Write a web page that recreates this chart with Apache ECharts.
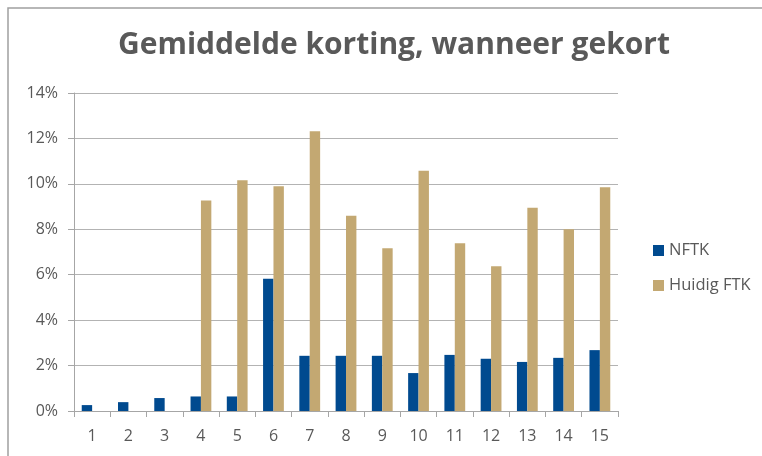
<!DOCTYPE html>
<html>
<head>
<meta charset="utf-8">
<script src="https://cdn.jsdelivr.net/npm/echarts@6/dist/echarts.min.js"></script>
<style>
  html, body { margin: 0; padding: 0; background: #fff; }
  #chart { width: 762px; height: 456px; }
</style>
</head>
<body>
<div id="chart"></div>
<script>
// categories (x axis)
var categories = ["1", "2", "3", "4", "5", "6", "7", "8", "9", "10", "11", "12", "13", "14", "15"];
// average cut, in %
var nftk = [0.26, 0.39, 0.57, 0.64, 0.64, 5.82, 2.43, 2.43, 2.43, 1.67, 2.47, 2.30, 2.16, 2.34, 2.68];
var huidigFtk = [null, null, null, 9.27, 10.16, 9.90, 12.32, 8.60, 7.16, 10.58, 7.38, 6.37, 8.95, 8.00, 9.85];
var yTicks = [0, 2, 4, 6, 8, 10, 12, 14];

var chart = echarts.init(document.getElementById("chart"));
var txt = "#595959";
var font = "'Open Sans', sans-serif";

chart.setOption({
    animation: false,
    title: {
        text: "Gemiddelde korting, wanneer gekort",
        left: 389,
        top: 25,
        textAlign: "center",
        textStyle: { color: txt, fontSize: 30, fontWeight: "bold", fontFamily: font }
    },
    graphic: [{
        type: "rect",
        shape: { x: 8, y: 8, width: 800, height: 500 },
        style: { fill: "none", stroke: "#a0a0a0", lineWidth: 1.5 },
        silent: true
    }],
    legend: {
        orient: "vertical",
        left: 648,
        top: 237,
        itemWidth: 11,
        itemHeight: 11,
        itemGap: 18,
        icon: "rect",
        textStyle: { color: txt, fontSize: 16.5, fontFamily: font },
        data: ["NFTK", "Huidig FTK"]
    },
    grid: { left: 74, right: 144, top: 93, bottom: 45, containLabel: false },
    xAxis: {
        type: "category",
        data: categories,
        axisLine: { lineStyle: { color: "#a6a6a6" } },
        axisTick: { show: true, length: 6, alignWithLabel: false, lineStyle: { color: "#a6a6a6" } },
        axisLabel: { color: txt, fontSize: 16, fontFamily: font, margin: 17 }
    },
    yAxis: {
        type: "value",
        min: yTicks[0],
        max: yTicks[yTicks.length - 1],
        interval: 2,
        axisLine: { show: true, lineStyle: { color: "#a6a6a6" } },
        axisTick: { show: true, length: 6, lineStyle: { color: "#a6a6a6" } },
        splitLine: { lineStyle: { color: "#b3b3b3" } },
        axisLabel: { color: txt, fontSize: 16, fontFamily: font, margin: 16, formatter: "{value}%" }
    },
    series: [{
        name: "NFTK",
        type: "bar",
        data: nftk,
        barWidth: 10.4,
        barGap: "0%",
        itemStyle: { color: "#004a8f" }
    }, {
        name: "Huidig FTK",
        type: "bar",
        data: huidigFtk,
        barWidth: 10.4,
        barGap: "0%",
        itemStyle: { color: "#c3a872" }
    }]
});
</script>
</body>
</html>
